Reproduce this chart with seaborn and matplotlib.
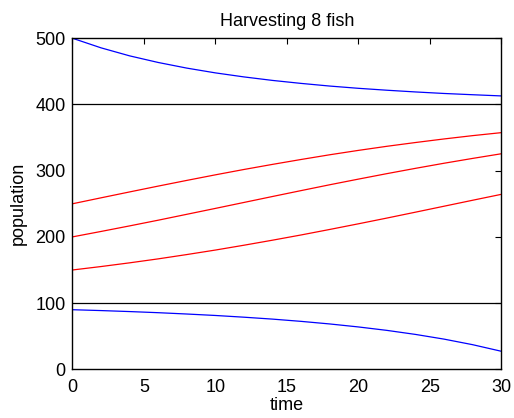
import pandas as pd
import matplotlib
matplotlib.use("Agg")
import matplotlib.pyplot as plt
import seaborn as sns

# values (population vs time)
time = [0, 2, 4, 6, 8, 10, 12, 14, 16, 18, 20, 22, 24, 26, 28, 30]
pop_500 = [500, 485.5, 473.4, 463.4, 454.9, 447.7, 441.6, 436.3, 431.8, 427.8, 424.4, 421.5, 418.9, 416.6, 414.7, 412.9]
pop_250 = [250, 259.0, 267.9, 276.7, 285.3, 293.7, 301.8, 309.5, 316.9, 324.0, 330.6, 336.8, 342.5, 347.9, 352.9, 357.4]
pop_200 = [200, 208.2, 216.6, 225.2, 234.1, 243.0, 252.0, 261.0, 269.9, 278.7, 287.2, 295.5, 303.5, 311.2, 318.5, 325.5]
pop_150 = [150, 155.2, 160.8, 166.8, 173.3, 180.1, 187.4, 195.0, 202.9, 211.2, 219.7, 228.4, 237.3, 246.3, 255.3, 264.2]
pop_90 = [90, 88.7, 87.2, 85.5, 83.5, 81.3, 78.7, 75.8, 72.4, 68.5, 64.0, 58.8, 52.7, 45.6, 37.2, 27.3]
equilibria = [100, 400]

curves = [
    (pop_500, "blue"),
    (pop_250, "red"),
    (pop_200, "red"),
    (pop_150, "red"),
    (pop_90, "blue"),
]

sns.set_style("white")
plt.rcParams['font.family'] = ['Liberation Sans', 'DejaVu Sans']
plt.rcParams['text.color'] = 'black'
plt.rcParams['axes.labelcolor'] = 'black'

fig = plt.figure(figsize=(5.14, 4.18), dpi=100)
ax = fig.add_axes([0.141, 0.1165, 0.834, 0.792])

for vals, col in curves:
    df = pd.DataFrame({"time": time, "population": vals})
    sns.lineplot(data=df, x="time", y="population", color=col, linewidth=0.9, ax=ax)

for e in equilibria:
    ax.axhline(e, color="black", linewidth=0.9)

ax.set_xlim(0, 30)
ax.set_ylim(0, 500)
ax.set_xticks([0, 5, 10, 15, 20, 25, 30])
ax.set_yticks([0, 100, 200, 300, 400, 500])
ax.tick_params(direction="in", top=True, right=True, length=4, width=0.8,
               labelsize=13, colors="black")
ax.tick_params(axis="x", pad=7)
ax.tick_params(axis="y", pad=5)
for s in ax.spines.values():
    s.set_color("black")
    s.set_linewidth(1.0)

ax.set_title("Harvesting 8 fish", fontsize=13, pad=9, color="black")
ax.set_xlabel("time", fontsize=13, labelpad=1, color="black")
ax.set_ylabel("population", fontsize=13, labelpad=6, color="black")

fig.savefig("out.png", dpi=100)
